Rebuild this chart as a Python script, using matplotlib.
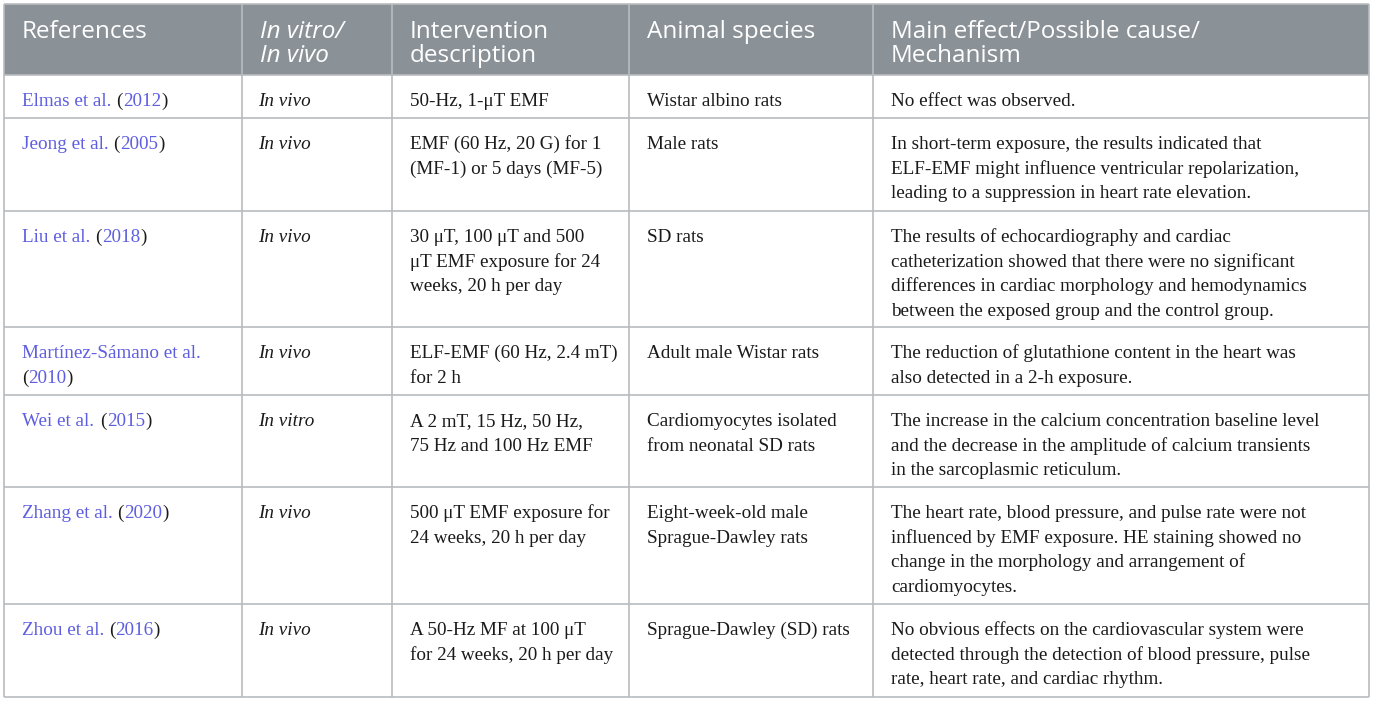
import matplotlib
matplotlib.use("Agg")
import matplotlib.pyplot as plt
from matplotlib.patches import Rectangle
from matplotlib.font_manager import FontProperties, findfont
from matplotlib.ft2font import FT2Font

# table content
headers = [["References"], ["In vitro/", "In vivo"], ["Intervention", "description"],
           ["Animal species"], ["Main effect/Possible cause/", "Mechanism"]]
ref_names = ["Elmas et al.", "Jeong et al.", "Liu et al.", "Martínez-Sámano et al.",
             "Wei et al.", "Zhang et al.", "Zhou et al."]
ref_years = ["2012", "2005", "2018", "2010", "2015", "2020", "2016"]
study_type = ["In vivo", "In vivo", "In vivo", "In vivo", "In vitro", "In vivo", "In vivo"]
interventions = [
    ["50-Hz, 1-μT EMF"],
    ["EMF (60 Hz, 20 G) for 1", "(MF-1) or 5 days (MF-5)"],
    ["30 μT, 100 μT and 500", "μT EMF exposure for 24", "weeks, 20 h per day"],
    ["ELF-EMF (60 Hz, 2.4 mT)", "for 2 h"],
    ["A 2 mT, 15 Hz, 50 Hz,", "75 Hz and 100 Hz EMF"],
    ["500 μT EMF exposure for", "24 weeks, 20 h per day"],
    ["A 50-Hz MF at 100 μT", "for 24 weeks, 20 h per day"],
]
species = [
    ["Wistar albino rats"],
    ["Male rats"],
    ["SD rats"],
    ["Adult male Wistar rats"],
    ["Cardiomyocytes isolated", "from neonatal SD rats"],
    ["Eight-week-old male", "Sprague-Dawley rats"],
    ["Sprague-Dawley (SD) rats"],
]
effects = [
    ["No effect was observed."],
    ["In short-term exposure, the results indicated that",
     "ELF-EMF might influence ventricular repolarization,",
     "leading to a suppression in heart rate elevation."],
    ["The results of echocardiography and cardiac",
     "catheterization showed that there were no significant",
     "differences in cardiac morphology and hemodynamics",
     "between the exposed group and the control group."],
    ["The reduction of glutathione content in the heart was",
     "also detected in a 2-h exposure."],
    ["The increase in the calcium concentration baseline level",
     "and the decrease in the amplitude of calcium transients",
     "in the sarcoplasmic reticulum."],
    ["The heart rate, blood pressure, and pulse rate were not",
     "influenced by EMF exposure. HE staining showed no",
     "change in the morphology and arrangement of",
     "cardiomyocytes."],
    ["No obvious effects on the cardiovascular system were",
     "detected through the detection of blood pressure, pulse",
     "rate, heart rate, and cardiac rhythm."],
]

# layout (pixels)
col_x = [4, 242, 392, 629, 873, 1369]
row_y = [4, 75, 118, 211, 327, 395, 487, 604, 697]
pad_x = 18
line_h = 24.6
header_bg = "#8b9297"
grid_col = "#b9bcbf"
link_col = "#5e5ee0"
text_col = "#1a1a1a"
serif = ["Liberation Serif", "DejaVu Serif"]
sans = ["Open Sans", "DejaVu Sans"]
body_fs = 13.8
head_fs = 17.5
DPI = 100

fig = plt.figure(figsize=(13.75, 7.02), dpi=DPI)
ax = fig.add_axes([0, 0, 1, 1])
ax.set_xlim(0, 1375)
ax.set_ylim(702, 0)
ax.axis("off")

ax.add_patch(Rectangle((col_x[0], row_y[0]), col_x[-1] - col_x[0], row_y[1] - row_y[0],
                       facecolor=header_bg, edgecolor="none"))
for y in row_y:
    ax.plot([col_x[0], col_x[-1]], [y, y], color=grid_col, lw=1.2, solid_capstyle="butt")
for x in col_x:
    ax.plot([x, x], [row_y[0], row_y[-1]], color=grid_col, lw=1.2, solid_capstyle="butt")

# header
for j, lines in enumerate(headers):
    for k, s in enumerate(lines):
        ax.text(col_x[j] + pad_x, 38 + k * 24.2, s, color="white", fontsize=head_fs,
                family=sans, style="italic" if j == 1 else "normal", va="baseline")

_font = FT2Font(findfont(FontProperties(family=serif[0])))
_font.set_size(body_fs, DPI)


def advance(s):
    # horizontal advance in pixels
    return sum(_font.load_char(ord(c)).linearHoriAdvance for c in s) / 65536


def seg_text(x, y, parts):
    for s, c in parts:
        ax.text(x, y, s, color=c, fontsize=body_fs, family=serif, va="baseline")
        x += advance(s)


for i in range(len(ref_names)):
    y0 = row_y[i + 1] + 31
    x0 = col_x[0] + pad_x
    if len(ref_names[i]) > 18:
        seg_text(x0, y0, [(ref_names[i], link_col)])
        seg_text(x0, y0 + line_h, [("(", text_col), (ref_years[i], link_col), (")", text_col)])
    else:
        seg_text(x0, y0, [(ref_names[i] + " ", link_col), ("(", text_col),
                          (ref_years[i], link_col), (")", text_col)])
    ax.text(col_x[1] + 16, y0, study_type[i], color=text_col, fontsize=body_fs,
            family=serif, style="italic", va="baseline")
    for j, cell in ((2, interventions[i]), (3, species[i]), (4, effects[i])):
        for k, s in enumerate(cell):
            ax.text(col_x[j] + pad_x, y0 + k * line_h, s, color=text_col,
                    fontsize=body_fs, family=serif, va="baseline")

fig.savefig("out.png", dpi=DPI)
